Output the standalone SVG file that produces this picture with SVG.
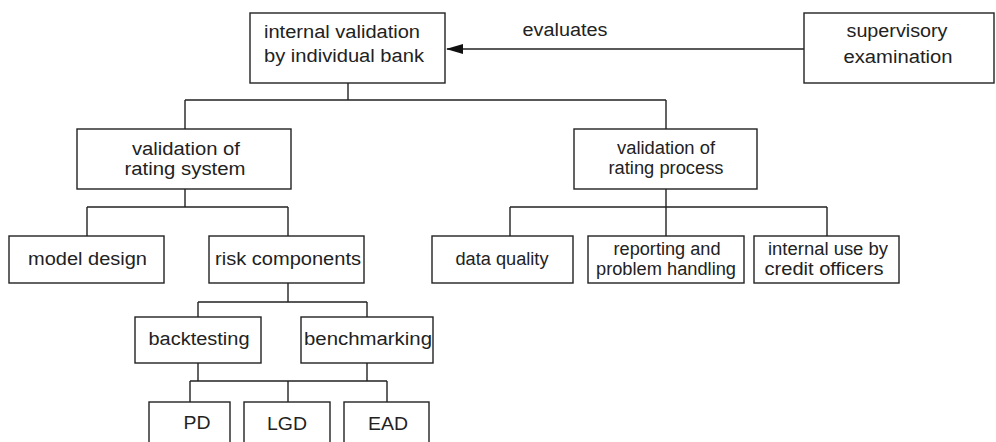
<svg xmlns="http://www.w3.org/2000/svg" width="996" height="442" viewBox="0 0 996 442">
<defs>
<style>
rect{fill:#fff;stroke:#222;stroke-width:1.4}
.c path{fill:none;stroke:#222;stroke-width:1.4}
text{font-family:"Liberation Sans",Arial,sans-serif;font-size:18px;fill:#222;text-anchor:middle}
</style>
<marker id="ah" viewBox="0 0 17 10" refX="16" refY="5" markerWidth="17" markerHeight="10" markerUnits="userSpaceOnUse" orient="auto">
<path d="M0,0 L17,5 L0,10 Z" fill="#111"/>
</marker>
</defs>
<rect x="0" y="0" width="996" height="442" style="fill:#fff;stroke:none"/>
<g class="c">
<path d="M804,49 H447" marker-end="url(#ah)"/>
<path d="M348,83 V100 M185,100 H666 M185,100 V129 M666,100 V129"/>
<path d="M185,189 V207 M87,207 H288 M87,207 V236 M288,207 V236"/>
<path d="M666,189 V207 M510,207 H827 M510,207 V236 M666,207 V236 M827,207 V236"/>
<path d="M288,283 V302 M198,302 H367 M198,302 V317 M367,302 V317"/>
<path d="M198,363 V381 M367,363 V381 M190,381 H387 M190,381 V402 M288,381 V402 M387,381 V402"/>
</g>
<g id="evaluates-label"><text x="565" y="36" textLength="85" lengthAdjust="spacingAndGlyphs">evaluates</text></g>
<g id="internal-validation">
<rect x="250" y="13" width="195" height="70"/>
<text x="342" y="38" textLength="156" lengthAdjust="spacingAndGlyphs">internal validation</text>
<text x="344" y="62" textLength="160" lengthAdjust="spacingAndGlyphs">by individual bank</text>
</g>
<g id="supervisory">
<rect x="804" y="13" width="190" height="70"/>
<text x="897" y="37" textLength="101" lengthAdjust="spacingAndGlyphs">supervisory</text>
<text x="898" y="63" textLength="109" lengthAdjust="spacingAndGlyphs">examination</text>
</g>
<g id="rating-system">
<rect x="77" y="129" width="214" height="60"/>
<text x="186" y="155" textLength="108" lengthAdjust="spacingAndGlyphs">validation of</text>
<text x="185" y="175" textLength="121" lengthAdjust="spacingAndGlyphs">rating system</text>
</g>
<g id="rating-process">
<rect x="574" y="129" width="183" height="60"/>
<text x="666" y="154" textLength="98" lengthAdjust="spacingAndGlyphs">validation of</text>
<text x="666" y="174" textLength="115" lengthAdjust="spacingAndGlyphs">rating process</text>
</g>
<g id="model-design">
<rect x="9" y="236" width="155" height="47"/>
<text x="87.5" y="265" textLength="119" lengthAdjust="spacingAndGlyphs">model design</text>
</g>
<g id="risk-components">
<rect x="209" y="236" width="155" height="47"/>
<text x="288" y="265" textLength="146" lengthAdjust="spacingAndGlyphs">risk components</text>
</g>
<g id="data-quality">
<rect x="432" y="236" width="141" height="47"/>
<text x="502" y="265" textLength="93" lengthAdjust="spacingAndGlyphs">data quality</text>
</g>
<g id="reporting">
<rect x="588" y="236" width="156" height="47"/>
<text x="667" y="255" textLength="107" lengthAdjust="spacingAndGlyphs">reporting and</text>
<text x="666" y="275" textLength="140" lengthAdjust="spacingAndGlyphs">problem handling</text>
</g>
<g id="internal-use">
<rect x="754" y="236" width="145" height="47"/>
<text x="828" y="255" textLength="120" lengthAdjust="spacingAndGlyphs">internal use by</text>
<text x="824" y="275" textLength="119" lengthAdjust="spacingAndGlyphs">credit officers</text>
</g>
<g id="backtesting">
<rect x="135" y="317" width="126" height="46"/>
<text x="199" y="345" textLength="101" lengthAdjust="spacingAndGlyphs">backtesting</text>
</g>
<g id="benchmarking">
<rect x="301" y="317" width="132" height="46"/>
<text x="368" y="345" textLength="128" lengthAdjust="spacingAndGlyphs">benchmarking</text>
</g>
<g id="pd">
<rect x="149" y="402" width="81" height="50"/>
<text x="197" y="429" textLength="27" lengthAdjust="spacingAndGlyphs">PD</text>
</g>
<g id="lgd">
<rect x="244" y="402" width="86" height="50"/>
<text x="287" y="430" textLength="40" lengthAdjust="spacingAndGlyphs">LGD</text>
</g>
<g id="ead">
<rect x="344" y="402" width="85" height="50"/>
<text x="388" y="430" textLength="40" lengthAdjust="spacingAndGlyphs">EAD</text>
</g>
</svg>
